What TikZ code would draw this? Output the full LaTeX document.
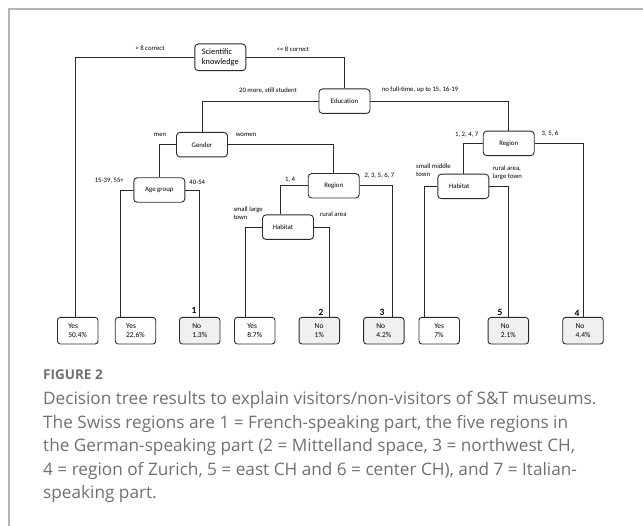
\documentclass[tikz,border=0pt]{standalone}
\usepackage{fontspec}
\setmainfont{Carlito}
\newfontfamily\capfont{Open Sans}
\definecolor{framegray}{HTML}{B4B4B4}
\definecolor{capgray}{HTML}{707070}
\definecolor{linegray}{HTML}{2A2A2A}
\definecolor{nofill}{HTML}{F0F0F0}
\begin{document}
\begin{tikzpicture}[x=1pt,y=-1pt,
  split/.style={draw=linegray, line width=0.9pt, rounded corners=3.5pt, minimum width=51pt, minimum height=24.5pt, inner sep=1pt, font=\fontsize{6.8}{8}\selectfont},
  leafyes/.style={draw=linegray, line width=0.9pt, rounded corners=3pt, minimum width=40.5pt, minimum height=26.7pt, inner sep=1pt, align=left, font=\fontsize{7.5}{9}\selectfont},
  leafno/.style={leafyes, fill=nofill},
  lbl/.style={inner sep=0pt, font=\fontsize{6.7}{8}\selectfont},
  num/.style={inner sep=0pt, font=\bfseries\fontsize{9.5}{10}\selectfont},
  conn/.style={draw=linegray, line width=0.9pt}
]
\useasboundingbox (0,0) rectangle (643,526);
\draw[framegray, line width=1.6pt] (9,526) -- (9,9) -- (643,9);

% split nodes
\node[split, minimum height=26.7pt, align=left, font=\fontsize{8.3}{10}\selectfont] (sk) at (220.3,57.3) {Scientific\\knowledge};
\node[split] (edu) at (344.5,101.2) {Education};
\node[split] (gen) at (202,144.7) {Gender};
\node[split] (regR) at (508.7,143.4) {Region};
\node[split] (age) at (159.3,190) {Age group};
\node[split] (regM) at (333.7,185.8) {Region};
\node[split] (habM) at (288,227.2) {\hspace*{-10pt}Habitat};
\node[split] (habR) at (463.3,186.4) {\hspace*{-8pt}Habitat};

% leaves
\node[leafyes] (l1) at (77.7,330.7) {Yes\\50.4\%};
\node[leafyes] (l2) at (135.5,330.7) {Yes\\22.6\%};
\node[leafno]  (l3) at (199.7,330.7) {No\\1.3\%};
\node[leafyes] (l4) at (254.7,330.7) {Yes\\8.7\%};
\node[leafno]  (l5) at (319.3,330.7) {No\\1\%};
\node[leafno]  (l6) at (383.8,330.7) {No\\4.2\%};
\node[leafyes] (l7) at (439.2,330.7) {Yes\\7\%};
\node[leafno]  (l8) at (508.3,330.7) {No\\2.1\%};
\node[leafno]  (l9) at (583,330.7) {No\\4.4\%};

% connectors
\draw[conn] (sk.west) -| ([xshift=-2.7pt]l1.north);
\draw[conn] (sk.east) -| (edu.north);
\draw[conn] (edu.west) -| (gen.north);
\draw[conn] (edu.east) -| (regR.north);
\draw[conn] (gen.west) -| (age.north);
\draw[conn] (gen.east) -| (regM.north);
\draw[conn] (age.west) -| ([xshift=-14.8pt]l2.north);
\draw[conn] (age.east) -| (l3.north);
\draw[conn] (regM.west) -| ([xshift=-8pt]habM.north);
\draw[conn] (regM.east) -| ([xshift=8.9pt]l6.north);
\draw[conn] (habM.west) -| ([xshift=-9pt]l4.north);
\draw[conn] (habM.east) -| ([xshift=9.7pt]l5.north);
\draw[conn] (regR.west) -| (habR.north);
\draw[conn] (regR.east) -| (l9.north);
\draw[conn] (habR.west) -| ([xshift=-15.2pt]l7.north);
\draw[conn] (habR.east) -| (l8.north);

% edge labels
\node[lbl] (t1) at (150,48.3) {> 8 correct};
\node[lbl] (t2) at (293,49) {<= 8 correct};
\node[lbl] (t3) at (268,90.7) {20 more, still student};
\node[lbl, anchor=west] (t4) at (381.7,89.3) {no full-time, up to 15, 16-19};
\node[lbl] (t5) at (160,134.7) {men};
\node[lbl] (t6) at (246,134.7) {women};
\node[lbl] (t7) at (466.7,135) {1, 2, 4, 7};
\node[lbl] (t8) at (550,134) {3, 5, 6};
\node[lbl] (t9) at (109.3,180.7) {15-39, 55+};
\node[lbl] (t10) at (197.3,182.3) {40-54};
\node[lbl] (t11) at (290,180) {1, 4};
\node[lbl, anchor=west] (t12) at (364.3,176) {2, 3, 5, 6, 7};
\node[lbl, anchor=west, align=left] (t13) at (416,170) {small middle\\town};
\node[lbl, anchor=west, align=left] (t14) at (492.7,172.8) {rural area,\\large town};
\node[lbl, anchor=west, align=left] (t15) at (233.3,213.5) {small large\\town};
\node[lbl] (t16) at (333.3,214.3) {rural area};

% leaf numbers
\node[num] (n1) at (194,310.7) {1};
\node[num] (n2) at (321,312.5) {2};
\node[num] (n3) at (382,312.7) {3};
\node[num] (n5) at (500,312.7) {5};
\node[num] (n4) at (577,313) {4};

% caption
\node[anchor=base west, inner sep=0pt, text=capgray, font=\capfont\bfseries\fontsize{13.5}{15}\selectfont] (fig) at (43,380) {FIGURE 2};
\node[anchor=base west, inner sep=0pt, align=left, text=capgray, font=\capfont\fontsize{17.2}{23.6}\selectfont] (cap) at (43,498.9) {Decision tree results to explain visitors/non-visitors of S\&T museums.\\The Swiss regions are 1 = French-speaking part, the five regions in\\the German-speaking part (2 = Mittelland space, 3 = northwest CH,\\4 = region of Zurich, 5 = east CH and 6 = center CH), and 7 = Italian-\\speaking part.};
\end{tikzpicture}
\end{document}
